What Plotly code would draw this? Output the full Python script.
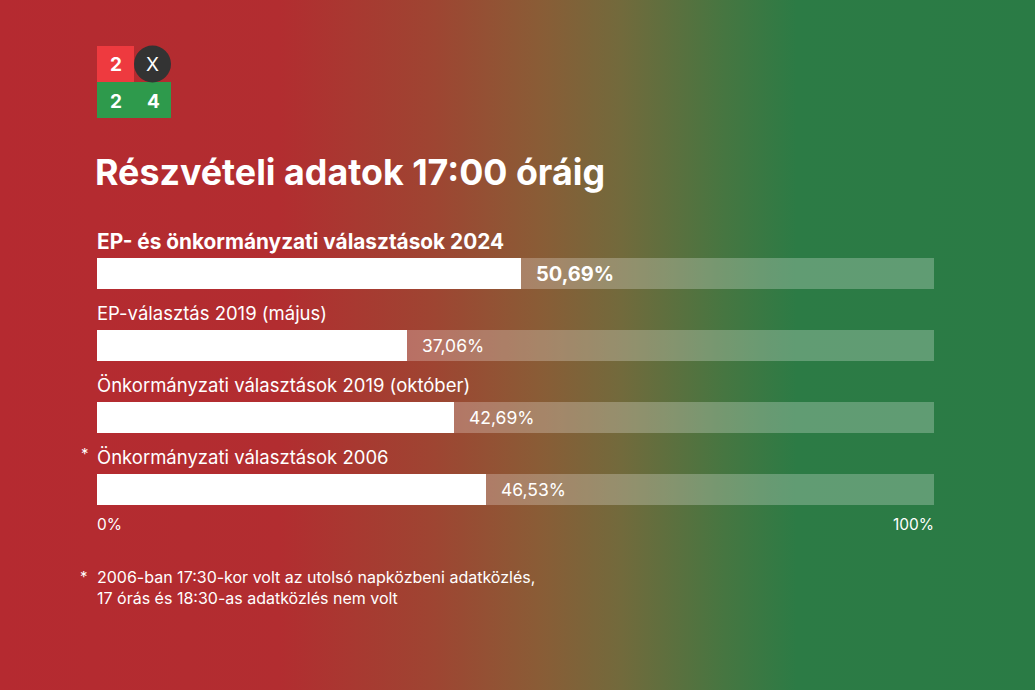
import base64
import plotly.graph_objects as go

# ---- data ----
categories = [
    "EP- és önkormányzati választások 2024",
    "EP-választás 2019 (május)",
    "Önkormányzati választások 2019 (október)",
    "Önkormányzati választások 2006",
]
values = [50.69, 37.06, 42.69, 46.53]
value_labels = ["50,69%", "37,06%", "42,69%", "46,53%"]
starred = [False, False, False, True]
tick_labels = ["0%", "100%"]
title = "Részvételi adatok 17:00 óráig"
footnote = ["2006-ban 17:30-kor volt az utolsó napközbeni adatközlés,",
            "17 órás és 18:30-as adatközlés nem volt"]

W, H = 1035, 690
FONT = "Inter"

def px(x):
    return x / W

def py(y):
    return 1 - y / H

# background gradient as SVG
svg = f'''<svg xmlns="http://www.w3.org/2000/svg" width="{W}" height="{H}">
<defs><linearGradient id="g" x1="0" y1="0" x2="1" y2="0">
<stop offset="0" stop-color="#B52A30"/>
<stop offset="0.27" stop-color="#B22D30"/>
<stop offset="0.42" stop-color="#9E4532"/>
<stop offset="0.52" stop-color="#8A5C36"/>
<stop offset="0.60" stop-color="#726A3C"/>
<stop offset="0.70" stop-color="#467641"/>
<stop offset="0.77" stop-color="#2C7B45"/>
<stop offset="1" stop-color="#2A7B45"/>
</linearGradient></defs>
<rect width="{W}" height="{H}" fill="url(#g)"/></svg>'''
src = "data:image/svg+xml;base64," + base64.b64encode(svg.encode()).decode()

n = len(categories)
idx = list(range(n))
# y axis in index units: center pixel = 273.5 + 72*i
y0, step = 273.5, 72.0
yr = [(H - y0) / step, (0 - y0) / step]

fig = go.Figure()
fig.add_trace(go.Bar(
    x=[100] * n, y=idx, orientation="h", width=31 / step,
    marker=dict(color="rgba(255,255,255,0.25)", line=dict(width=0)),
    hoverinfo="skip", showlegend=False,
))
fig.add_trace(go.Bar(
    x=values, y=idx, orientation="h", width=31 / step,
    marker=dict(color="#FFFFFF", line=dict(width=0)),
    hoverinfo="skip", showlegend=False,
))

annotations = []
for i, (c, v, lab, st) in enumerate(zip(categories, values, value_labels, starred)):
    bold = i == 0
    annotations.append(dict(
        x=0, y=i - 32.5 / step, xref="x", yref="y", xanchor="left", yanchor="middle",
        text=f"<b>{c}</b>" if bold else c, showarrow=False, xshift=-2,
        font=dict(family=FONT, size=20.8 if bold else 18.5, color="white"),
    ))
    annotations.append(dict(
        x=v, y=i, xref="x", yref="y", xanchor="left", yanchor="middle",
        text=f"<b>{lab}</b>" if bold else lab, showarrow=False, xshift=13,
        font=dict(family=FONT, size=20 if bold else 17.5, color="white"),
    ))
    if st:
        annotations.append(dict(
            x=0, y=i - 36 / step, xref="x", yref="y", xanchor="right", yanchor="middle",
            text="*", showarrow=False, xshift=-6,
            font=dict(family=FONT, size=15, color="white"),
        ))

# axis end labels
tick_y = (524 - y0) / step
annotations.append(dict(x=0, y=tick_y, xref="x", yref="y", xanchor="left", yanchor="middle",
                        text=tick_labels[0], showarrow=False, xshift=-2,
                        font=dict(family=FONT, size=15.5, color="white")))
annotations.append(dict(x=100, y=tick_y, xref="x", yref="y", xanchor="right", yanchor="middle",
                        text=tick_labels[1], showarrow=False, xshift=2,
                        font=dict(family=FONT, size=15.5, color="white")))

# title
annotations.append(dict(x=px(93), y=py(172), xref="paper", yref="paper", xanchor="left",
                        yanchor="middle", text=f"<b>{title}</b>", showarrow=False,
                        font=dict(family=FONT, size=35.8, color="white")))

# footnote
annotations.append(dict(x=px(95), y=py(587), xref="paper", yref="paper", xanchor="left",
                        yanchor="middle", text="<br>".join(footnote), showarrow=False,
                        align="left", font=dict(family=FONT, size=16, color="white")))
annotations.append(dict(x=px(90), y=py(576), xref="paper", yref="paper", xanchor="right",
                        yanchor="middle", text="*", showarrow=False,
                        font=dict(family=FONT, size=15, color="white")))

# logo
shapes = [
    dict(type="rect", xref="paper", yref="paper", x0=px(97), x1=px(134), y0=py(82), y1=py(46),
         fillcolor="#EE3A3F", line=dict(width=0), layer="above"),
    dict(type="rect", xref="paper", yref="paper", x0=px(97), x1=px(171), y0=py(118), y1=py(82),
         fillcolor="#2E9A4C", line=dict(width=0), layer="above"),
    dict(type="circle", xref="paper", yref="paper", x0=px(134), x1=px(171), y0=py(82.5), y1=py(45.5),
         fillcolor="#333333", line=dict(width=0), layer="above"),
]
for t, cx, cy, b in [("2", 116, 64, True), ("X", 152.5, 64, False), ("2", 116, 101, True), ("4", 153, 101, True)]:
    annotations.append(dict(x=px(cx), y=py(cy), xref="paper", yref="paper", xanchor="center",
                            yanchor="middle", text=f"<b>{t}</b>" if b else t, showarrow=False,
                            font=dict(family=FONT, size=19, color="white")))

fig.update_layout(
    width=W, height=H, margin=dict(l=0, r=0, t=0, b=0),
    paper_bgcolor="#B52A30", plot_bgcolor="rgba(0,0,0,0)",
    barmode="overlay", bargap=0,
    xaxis=dict(range=[0, 100], domain=[px(97), px(934)], visible=False, fixedrange=True),
    yaxis=dict(range=yr, domain=[0, 1], visible=False, fixedrange=True),
    images=[dict(source=src, xref="paper", yref="paper", x=0, y=1, sizex=1, sizey=1,
                 xanchor="left", yanchor="top", sizing="stretch", layer="below")],
    shapes=shapes, annotations=annotations, showlegend=False,
)

fig.write_html("out.html", config={"displayModeBar": False},
               post_script="document.body.style.margin='0';document.body.style.overflow='hidden';")
